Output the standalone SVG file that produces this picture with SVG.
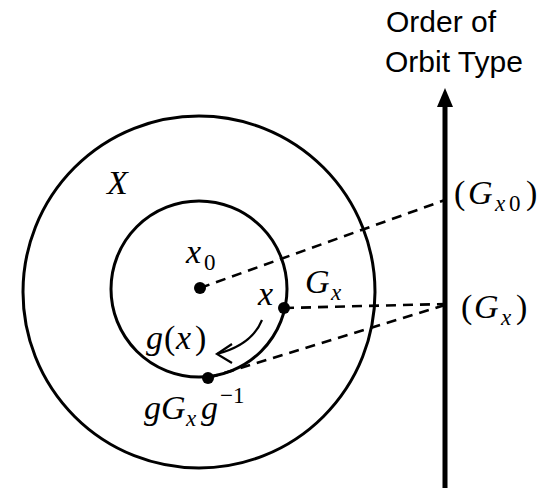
<svg xmlns="http://www.w3.org/2000/svg" width="549" height="488" viewBox="0 0 549 488">
<style>
.circ{fill:none;stroke:#000;stroke-width:3}
.dash{fill:none;stroke:#000;stroke-width:2.6;stroke-dasharray:10 7}
.m{font-family:"Liberation Serif","DejaVu Serif",serif;font-size:34px;fill:#000}
.i{font-style:italic}
.s{font-size:23px}
.lab{font-family:"Liberation Sans",Arial,sans-serif;font-size:30px;fill:#000}
</style>
<rect width="549" height="488" fill="#fff"/>
<g id="outer"><circle class="circ" cx="199" cy="292" r="176"/></g>
<g id="inner"><circle class="circ" cx="199" cy="289" r="88"/></g>
<g id="connectors">
<line class="dash" x1="200" y1="288" x2="445" y2="200"/>
<line class="dash" x1="284" y1="308" x2="445" y2="304"/>
<line class="dash" x1="208" y1="378" x2="445" y2="305"/>
<path d="M262,320 Q252,345 217,354" fill="none" stroke="#000" stroke-width="2.2"/>
<path d="M232,344 L217,354 L232,363" fill="none" stroke="#000" stroke-width="2.2"/>
<line x1="445" y1="104" x2="445" y2="488" stroke="#000" stroke-width="5"/>
<polygon points="445,88 437,107 453,107" fill="#000"/>
</g>
<g id="dot-x0"><circle cx="200" cy="288" r="6"/></g>
<g id="dot-x"><circle cx="284" cy="308" r="6"/></g>
<g id="dot-g"><circle cx="208" cy="378" r="6"/></g>
<g id="labels">
<text class="m i" x="107" y="194">X</text>
<text class="m"><tspan class="i" x="186" y="263">x</tspan><tspan class="s" x="204" y="270">0</tspan></text>
<text class="m i" x="258" y="305">x</text>
<text class="m"><tspan class="i" x="305" y="293">G</tspan><tspan class="i s" x="331" y="300">x</tspan></text>
<text class="m" y="349"><tspan class="i" x="146">g</tspan><tspan x="164">(</tspan><tspan class="i" x="176">x</tspan><tspan x="195">)</tspan></text>
<text class="m"><tspan class="i" x="144" y="419">g</tspan><tspan class="i" x="161" y="419">G</tspan><tspan class="i s" x="186" y="426">x</tspan><tspan class="i" x="201" y="419">g</tspan><tspan class="s" x="220" y="403">−1</tspan></text>
<text class="m"><tspan x="454" y="204">(</tspan><tspan class="i" x="468" y="204">G</tspan><tspan class="i s" x="495" y="211">x</tspan><tspan class="s" x="509" y="211">0</tspan><tspan x="526" y="204">)</tspan></text>
<text class="m"><tspan x="461" y="318">(</tspan><tspan class="i" x="474" y="318">G</tspan><tspan class="i s" x="501" y="325">x</tspan><tspan x="516" y="318">)</tspan></text>
<text class="lab" x="386" y="32">Order of</text>
<text class="lab" x="385" y="72">Orbit Type</text>
</g>
</svg>
